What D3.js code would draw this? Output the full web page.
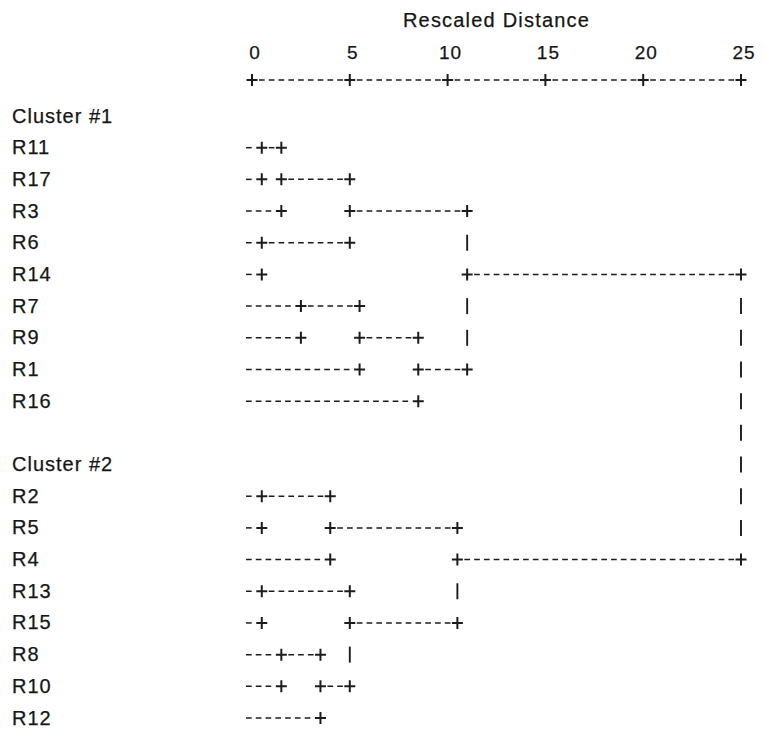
<!DOCTYPE html>
<html>
<head>
<meta charset="utf-8">
<script src="https://cdn.jsdelivr.net/npm/d3@7"></script>
<style>
  body { margin: 0; background: #fff; }
  svg text { font-family: "Liberation Sans", Arial, sans-serif; fill: #161616; stroke: #161616; stroke-width: 0.25px; }
</style>
</head>
<body>
<svg id="chart" width="766" height="735"></svg>
<script>
// данные дендрограммы
const cluster1Cases = ["R11", "R17", "R3", "R6", "R14", "R7", "R9", "R1", "R16"];
const cluster2Cases = ["R2", "R5", "R4", "R13", "R15", "R8", "R10", "R12"];
const clusterTitles = ["Cluster #1", "Cluster #2"];
const tickValues = [0, 5, 10, 15, 20, 25];
const axisTitle = "Rescaled Distance";

// шаги объединения: [новый узел, первый, второй, масштабированное расстояние]
const merges = [
  ["a1", "R11", "R17", 0.5],
  ["a2", "a1", "R3", 1.5],
  ["a3", "R6", "R14", 0.5],
  ["a4", "a2", "a3", 5],
  ["a5", "R7", "R9", 2.5],
  ["a6", "a5", "R1", 5.5],
  ["a7", "a6", "R16", 8.5],
  ["a8", "a4", "a7", 11],
  ["b1", "R2", "R5", 0.5],
  ["b2", "b1", "R4", 4],
  ["b3", "R13", "R15", 0.5],
  ["b4", "R8", "R10", 1.5],
  ["b5", "b4", "R12", 3.5],
  ["b6", "b3", "b5", 5],
  ["b7", "b2", "b6", 10.5],
  ["root", "a8", "b7", 25]
];

const svg = d3.select("#chart");
const ink = "#1c1c1c";

// строки: заголовки кластеров, пустая строка, наблюдения
const rowKeys = [clusterTitles[0], ...cluster1Cases, "gap", clusterTitles[1], ...cluster2Cases];
const y = d3.scalePoint().domain(rowKeys).range([116, 718]);
const x = d3.scaleLinear().domain([0, 25]).range([252, 741]);
const halfStep = x(0.5) - x(0);

// подписи строк
svg.append("g").selectAll("text")
  .data(rowKeys.filter(k => k !== "gap"))
  .join("text")
  .attr("x", 12)
  .attr("y", d => y(d) + 6.5)
  .attr("font-size", "20px")
  .attr("letter-spacing", "1px")
  .text(d => d);

// заголовок оси
svg.append("text")
  .attr("x", (x(0) + x(25)) / 2)
  .attr("y", 27)
  .attr("text-anchor", "middle")
  .attr("font-size", "20px")
  .attr("letter-spacing", "1.2px")
  .text(axisTitle);

// подписи делений
svg.append("g").selectAll("text")
  .data(tickValues)
  .join("text")
  .attr("x", d => x(d) + 3)
  .attr("y", 59)
  .attr("text-anchor", "middle")
  .attr("font-size", "19px")
  .attr("letter-spacing", "1px")
  .text(d => d);

function plus(px, py) {
  svg.append("path")
    .attr("d", `M${px - 5.5},${py}h11M${px},${py - 6}v12`)
    .attr("stroke", ink)
    .attr("stroke-width", 2)
    .attr("fill", "none");
}

function bar(px, py) {
  svg.append("line")
    .attr("x1", px).attr("x2", px)
    .attr("y1", py - 8).attr("y2", py + 8)
    .attr("stroke", ink)
    .attr("stroke-width", 1.9);
}

function dashes(x1, x2, py) {
  if (x2 <= x1) return;
  svg.append("line")
    .attr("x1", x1).attr("x2", x2)
    .attr("y1", py).attr("y2", py)
    .attr("stroke", ink)
    .attr("stroke-width", 1.5)
    .attr("stroke-dasharray", `${halfStep * 0.58},${halfStep * 0.42}`);
}

// ось сверху
const axisY = 80;
tickValues.forEach((t, i) => {
  plus(x(t), axisY);
  if (i < tickValues.length - 1) dashes(x(t) + 7, x(tickValues[i + 1]) - 6.5, axisY);
});

// узлы дерева
const nodes = new Map();
[...cluster1Cases, ...cluster2Cases].forEach(name => {
  nodes.set(name, { id: name, leaf: true, dist: 0, row: rowKeys.indexOf(name) });
});
merges.forEach(([id, a, b, dist]) => {
  const na = nodes.get(a), nb = nodes.get(b);
  const node = { id, leaf: false, dist, a: na, b: nb, row: Math.floor((na.row + nb.row) / 2) };
  na.parent = node;
  nb.parent = node;
  nodes.set(id, node);
});

nodes.forEach(node => {
  if (node.leaf) return;
  const px = x(node.dist);
  const top = Math.min(node.a.row, node.b.row);
  const bottom = Math.max(node.a.row, node.b.row);
  const isRoot = !node.parent;

  [node.a, node.b].forEach(child => {
    const py = y(rowKeys[child.row]);
    const start = child.leaf ? x(0) - 6 : x(child.dist) + 7;
    dashes(start, px - 6.5, py);
    plus(px, py);
  });

  for (let r = top + 1; r < bottom; r++) {
    if (!isRoot && r === node.row) plus(px, y(rowKeys[r]));
    else bar(px, y(rowKeys[r]));
  }
});
</script>
</body>
</html>
